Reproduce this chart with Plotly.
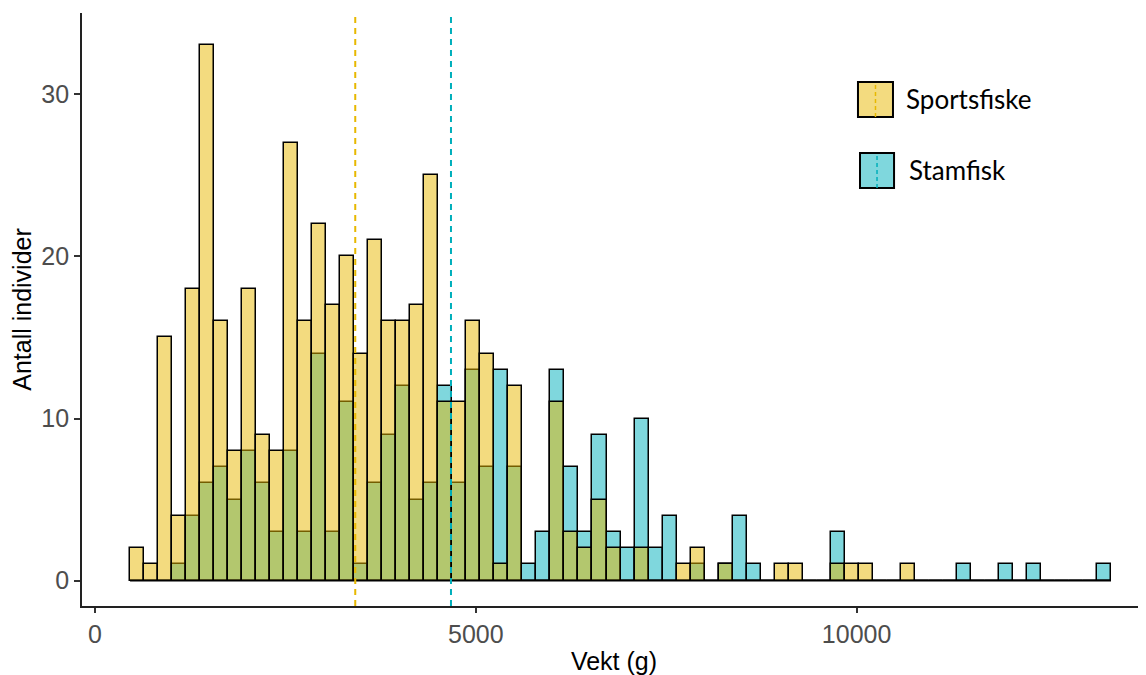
import plotly.graph_objects as go

# ---- data ----
bin_start = 460      # g, left edge of first bin
bin_width = 184      # g
sportsfiske = [2, 1, 15, 4, 18, 33, 16, 8, 18, 9,
               8, 27, 16, 22, 17, 20, 14, 21, 16, 16,
               17, 25, 11, 11, 16, 14, 1, 12, 0, 0,
               11, 3, 2, 5, 2, 0, 2, 0, 0, 1,
               2, 0, 1, 0, 0, 0, 1, 1, 0, 0,
               1, 1, 1, 0, 0, 1, 0, 0, 0, 0,
               0, 0, 0, 0, 0, 0, 0, 0, 0, 0]
stamfisk = [0, 0, 0, 1, 4, 6, 7, 5, 8, 6,
            3, 8, 3, 14, 3, 11, 1, 6, 9, 12,
            5, 6, 12, 6, 13, 7, 13, 7, 1, 3,
            13, 7, 3, 9, 3, 2, 10, 2, 4, 0,
            1, 0, 1, 4, 1, 0, 0, 0, 0, 0,
            3, 0, 0, 0, 0, 0, 0, 0, 0, 1,
            0, 0, 1, 0, 1, 0, 0, 0, 0, 1]
mean_sportsfiske = 3417
mean_stamfisk = 4674
x_ticks = [0, 5000, 10000]
y_ticks = [0, 10, 20, 30]
series_names = ["Sportsfiske", "Stamfisk"]

n_bins = len(sportsfiske)
centers = [bin_start + bin_width * (i + 0.5) for i in range(n_bins)]
edges = [bin_start, bin_start + bin_width * n_bins]

YELLOW = "#E7B800"
CYAN = "#00AFBB"
YELLOW_FILL = "rgba(231,184,0,0.5)"
CYAN_FILL = "rgba(0,175,187,0.5)"

fig = go.Figure()

# baseline for empty bins (histogram outline)
fig.add_trace(go.Scatter(x=edges, y=[0, 0], mode="lines",
                         line=dict(color="black", width=1.5),
                         showlegend=False, hoverinfo="skip"))

fig.add_trace(go.Bar(x=centers, y=stamfisk, width=bin_width,
                     name=series_names[1],
                     marker=dict(color=CYAN_FILL, line=dict(color="black", width=1.5))))
fig.add_trace(go.Bar(x=centers, y=sportsfiske, width=bin_width,
                     name=series_names[0],
                     marker=dict(color=YELLOW_FILL, line=dict(color="black", width=1.5))))

# mean lines
fig.add_shape(type="line", xref="x", yref="paper", x0=mean_sportsfiske, x1=mean_sportsfiske,
              y0=0, y1=1, line=dict(color=YELLOW, width=2, dash="6px,5px"))
fig.add_shape(type="line", xref="x", yref="paper", x0=mean_stamfisk, x1=mean_stamfisk,
              y0=0, y1=1, line=dict(color=CYAN, width=2, dash="6px,5px"))

# custom legend (boxes with dashed mean line + labels)
legend_items = [
    (series_names[0], YELLOW_FILL, YELLOW, 0.7293, 0.7622, 0.8246, 0.8836, 0.7726, 0.855),
    (series_names[1], CYAN_FILL, CYAN, 0.7312, 0.7632, 0.7049, 0.7639, 0.7754, 0.7352),
]
for name, fill, col, x0, x1, y0, y1, tx, ty in legend_items:
    fig.add_shape(type="rect", xref="paper", yref="paper", x0=x0, x1=x1, y0=y0, y1=y1,
                  fillcolor=fill, line=dict(color="black", width=2), layer="above")
    xm = (x0 + x1) / 2
    fig.add_shape(type="line", xref="paper", yref="paper", x0=xm, x1=xm, y0=y0, y1=y1,
                  line=dict(color=col, width=1.5, dash="4px,3px"), layer="above")
    fig.add_annotation(xref="paper", yref="paper", x=tx, y=ty, text=name, showarrow=False,
                       xanchor="left", yanchor="middle",
                       font=dict(family="Lato", size=26, color="black"))

axis_font = dict(family="Arial", size=25, color="#4D4D4D")
title_font = dict(family="Arial", size=25, color="black")

# the page body adds an 8px offset; the figure is sized so that it fills the window
fig.update_layout(
    width=1138, height=667,
    margin=dict(l=74, r=0, t=5, b=69),
    paper_bgcolor="white", plot_bgcolor="white",
    barmode="overlay", bargap=0,
    showlegend=False,
    xaxis=dict(range=[-171, 13800], tickvals=x_ticks, ticktext=[str(v) for v in x_ticks],
               showgrid=False, zeroline=False, showline=True, linecolor="#222222", linewidth=1.8,
               ticks="outside", ticklen=5, tickwidth=1.5, tickcolor="#333333",
               tickfont=axis_font, automargin=False,
               title=dict(text="Vekt (g)", font=title_font, standoff=10)),
    yaxis=dict(range=[-1.56, 35.0], tickvals=y_ticks,
               showgrid=False, zeroline=False, showline=True, linecolor="#222222", linewidth=1.8,
               ticks="outside", ticklen=6, tickwidth=1.5, tickcolor="#333333",
               tickfont=axis_font, automargin=False,
               title=dict(text="Antall individer", font=title_font, standoff=4)),
)

fig.write_html("out.html")
